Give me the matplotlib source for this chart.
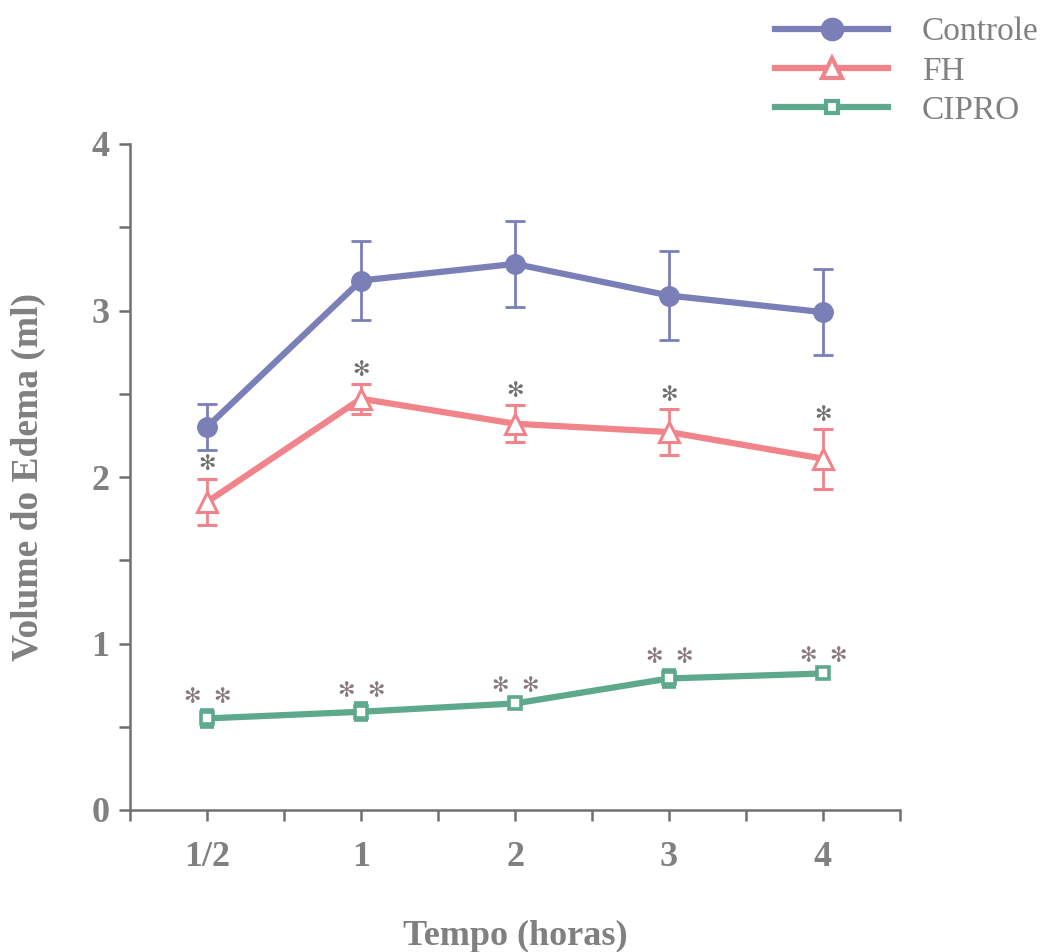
import matplotlib
matplotlib.use("Agg")
import matplotlib.pyplot as plt
from matplotlib.lines import Line2D
import numpy as np

# Time points (hours)
categories = ["1/2", "1", "2", "3", "4"]

# Mean edema volume (ml) and standard error for each group
controle = [2.30, 3.18, 3.28, 3.09, 2.99]
controle_err = [0.14, 0.24, 0.26, 0.27, 0.26]

fh = [1.85, 2.47, 2.32, 2.27, 2.11]
fh_err = [0.14, 0.09, 0.11, 0.14, 0.18]

cipro = [0.55, 0.59, 0.64, 0.79, 0.82]
cipro_err = [0.05, 0.05, 0.03, 0.05, 0.03]

# Number of significance asterisks above each point
fh_marks = [1, 1, 1, 1, 1]
cipro_marks = [2, 2, 2, 2, 2]

GRAY = "#808080"
C_BLUE = "#7a7fb8"
C_RED = "#f0848a"
C_GREEN = "#5ea88c"
SERIF = ["Liberation Serif", "DejaVu Serif"]
STAR = "\u273B"

fig = plt.figure(figsize=(10.42, 9.52), dpi=100)
ax = fig.add_axes([130 / 1042, 1 - 810 / 952, 770 / 1042, 666 / 952])

x = np.arange(len(categories))

ax.errorbar(x, controle, yerr=controle_err, color=C_BLUE, lw=4.5, marker="o",
            ms=14, mfc=C_BLUE, mec=C_BLUE, elinewidth=2, capsize=7,
            capthick=2, label="Controle", zorder=3)
ax.errorbar(x, fh, yerr=fh_err, color=C_RED, lw=4.5, marker="^",
            ms=14, mfc="white", mec=C_RED, mew=2.2, elinewidth=2, capsize=7,
            capthick=2, label="FH", zorder=3)
ax.errorbar(x, cipro, yerr=cipro_err, color=C_GREEN, lw=4.5, marker="s",
            ms=8, mfc="white", mec=C_GREEN, mew=2.6, elinewidth=2, capsize=5,
            capthick=2, label="CIPRO", zorder=3)


def stars(xs, vals, errs, counts, color, gap, lift):
    for xi, v, e, n in zip(xs, vals, errs, counts):
        offsets = (np.arange(n) - (n - 1) / 2) * gap
        for dx in offsets:
            ax.annotate(STAR, (xi, v + e), xytext=(dx, lift),
                        textcoords="offset points", ha="center", va="bottom",
                        fontsize=15, color=color, family=["DejaVu Sans"])


stars(x, fh, fh_err, fh_marks, "#707070", 0, 3)
stars(x, cipro, cipro_err, cipro_marks, "#8a7a80", 21, 2)

ax.set_xlim(-0.5, 4.5)
ax.set_ylim(0, 4)
ax.set_xticks(x)
ax.set_xticklabels(categories)
ax.set_xticks(np.arange(-0.5, 4.6, 0.5), minor=True)
ax.set_yticks([0, 1, 2, 3, 4])
ax.set_yticks(np.arange(0, 4.01, 0.5), minor=True)

for s in ["top", "right"]:
    ax.spines[s].set_visible(False)
for s in ["left", "bottom"]:
    ax.spines[s].set_color("#707070")
    ax.spines[s].set_linewidth(1.8)

ax.tick_params(which="both", direction="out", color="#707070", width=1.8,
               length=8)
ax.tick_params(axis="x", which="major", labelsize=26, labelcolor=GRAY, pad=14)
ax.tick_params(axis="y", which="major", labelsize=26, labelcolor=GRAY, pad=7)
for lab in ax.get_xticklabels() + ax.get_yticklabels():
    lab.set_family(SERIF)
    lab.set_fontweight("bold")

ax.set_xlabel("Tempo (horas)", fontsize=26, fontweight="bold", color=GRAY,
              family=SERIF)
ax.set_ylabel("Volume do Edema (ml)", fontsize=27, fontweight="bold",
              color=GRAY, family=SERIF)
ax.xaxis.set_label_coords(0.5, (810 - 936) / 666)
ax.xaxis.label.set_va("center")
ax.yaxis.set_label_coords((28 - 130) / 770, 0.5)
ax.yaxis.label.set_va("center")

# Legend in the upper right corner
handles = [
    Line2D([], [], color=C_BLUE, lw=4.5, marker="o", ms=16, mfc=C_BLUE, mec=C_BLUE),
    Line2D([], [], color=C_RED, lw=4.5, marker="^", ms=15, mfc="white", mec=C_RED, mew=3),
    Line2D([], [], color=C_GREEN, lw=4.5, marker="s", ms=9, mfc="white", mec=C_GREEN, mew=3),
]
leg = fig.legend(handles, ["Controle", "FH", "CIPRO"], loc="upper left",
                 bbox_to_anchor=(775 / 1042, 1 - 17 / 952), frameon=False,
                 prop={"family": SERIF, "size": 24}, handlelength=3.4,
                 handletextpad=1.0, labelspacing=0.26, borderpad=0,
                 borderaxespad=0)
for t in leg.get_texts():
    t.set_color(GRAY)

fig.savefig("out.png", dpi=100, facecolor="white")
